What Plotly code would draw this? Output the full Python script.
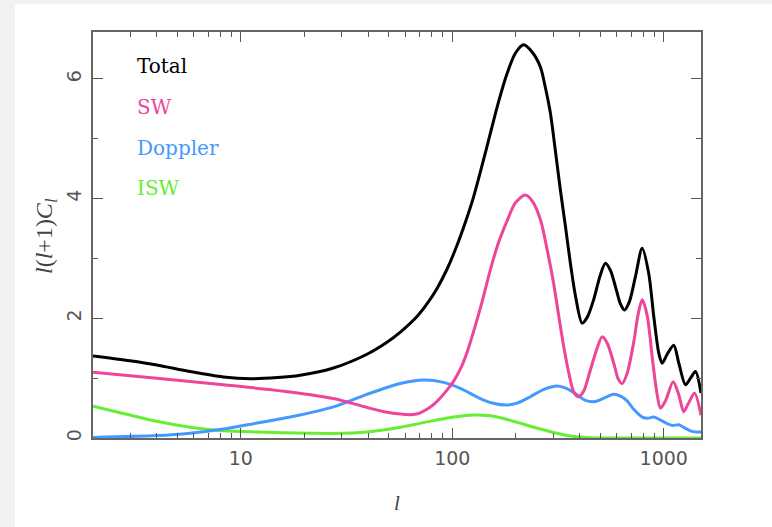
import plotly.graph_objects as go

# Angular power spectrum components, l(l+1)C_l vs multipole l
l_total = [2, 2.99, 4.0, 5.75, 8.27, 11.1, 14.9, 19.1, 27.4, 39.5, 49.1, 56.8,
           68.1, 75.9, 84.7, 94.4, 105.3, 115.2, 126.1, 138.2, 151.3, 165.6,
           181.6, 198.7, 217.6, 238.4, 261, 275, 291, 307, 324.6, 343, 361.8,
           383, 411, 435, 466, 501.7, 529.8, 559.6, 590.8, 623.8, 651.7, 688,
           735, 790.6, 849, 897, 947, 982.6, 1038, 1115, 1178, 1267, 1338,
           1413, 1500]
total = [1.37, 1.29, 1.22, 1.11, 1.02, 0.99, 1.01, 1.05, 1.17, 1.40, 1.60, 1.77,
         2.03, 2.24, 2.50, 2.82, 3.22, 3.60, 4.03, 4.55, 5.09, 5.62,
         6.09, 6.43, 6.57, 6.45, 6.20, 5.87, 5.43, 4.81, 4.14, 3.53, 2.92,
         2.36, 1.92, 2.02, 2.31, 2.73, 2.92, 2.80, 2.53, 2.24, 2.14, 2.28,
         2.70, 3.17, 2.75, 2.03, 1.42, 1.25, 1.40, 1.55, 1.25, 0.89, 1.00,
         1.11, 0.75]

l_sw = [2, 4.0, 8.27, 17.1, 27.4, 39.5, 49.1, 56.8, 63.3, 69.3, 75.9, 81.6,
        87.7, 94.4, 101.5, 109.1, 117.4, 126.1, 138.2, 151.3, 165.6, 181.6,
        198.7, 221.6, 239, 261, 280.8, 301.6, 318.4, 336.4, 355, 375.2, 396,
        418, 450, 484, 511, 541, 580, 610, 636, 671, 721, 755, 790.6, 834.6,
        882, 923.5, 965, 1018.6, 1108, 1178, 1243, 1309, 1398, 1500]
sw = [1.10, 1.00, 0.89, 0.77, 0.66, 0.51, 0.43, 0.40, 0.39, 0.41, 0.48, 0.56,
      0.67, 0.80, 0.95, 1.15, 1.43, 1.78, 2.27, 2.81, 3.27, 3.63,
      3.93, 4.06, 3.96, 3.65, 3.15, 2.58, 2.05, 1.53, 1.10, 0.77, 0.69,
      0.78, 1.14, 1.50, 1.69, 1.58, 1.25, 0.98, 0.91, 1.08, 1.60, 2.05, 2.31,
      2.05, 1.35, 0.80, 0.50, 0.62, 0.94, 0.72, 0.44, 0.58, 0.75, 0.38]

l_dop = [2, 4.0, 5.75, 8.27, 11.9, 17.1, 27.4, 39.5, 56.8, 73.2, 91.0, 109.1,
         135.7, 156.4, 181.6, 205.3, 234, 269.7, 313, 346.4, 383, 426, 475,
         524, 580, 624, 671, 721, 790.6, 842, 897, 965, 1038, 1099, 1178,
         1253, 1338, 1428, 1500]
doppler = [0.01, 0.04, 0.08, 0.15, 0.25, 0.35, 0.52, 0.73, 0.91, 0.97, 0.93,
           0.83, 0.66, 0.58, 0.55, 0.59, 0.69, 0.81, 0.87, 0.83, 0.74, 0.63,
           0.61, 0.67, 0.73, 0.70, 0.62, 0.48, 0.35, 0.33, 0.35, 0.30, 0.24,
           0.21, 0.22, 0.17, 0.12, 0.10, 0.10]

l_isw = [2, 2.78, 4.0, 5.75, 8.27, 11.9, 21.3, 27.4, 39.5, 56.8, 81.6, 101.5,
         126.1, 151.3, 181.6, 217.6, 261, 313, 375, 450, 530, 1500]
isw = [0.53, 0.41, 0.28, 0.18, 0.12, 0.10, 0.08, 0.075, 0.10, 0.18, 0.29, 0.35,
       0.385, 0.37, 0.31, 0.23, 0.15, 0.08, 0.025, 0.005, 0.0, 0.0]

names = ["Total", "SW", "Doppler", "ISW"]
colors = ["#000000", "#ee4499", "#4499ff", "#66ee33"]
series = [(l_total, total), (l_sw, sw), (l_dop, doppler), (l_isw, isw)]

x_major = [10, 100, 1000]
x_minor = [v * d for d in (1, 10, 100) for v in range(2, 10) if v * d <= 1500]
y_major = [0, 2, 4, 6]
y_minor = [1, 3, 5]

fig = go.Figure()
# components drawn first so the total sits on top
for (lx, ly), name, col in list(zip(series, names, colors))[::-1]:
    fig.add_trace(go.Scatter(x=lx, y=ly, mode="lines", name=name,
                             line=dict(color=col, width=3, shape="spline", smoothing=0.8),
                             showlegend=False))

axis_common = dict(showline=True, linecolor="#666666", linewidth=1.5, mirror="ticks",
                   ticks="inside", ticklen=10, tickwidth=1.2, tickcolor="#555555",
                   showgrid=False, zeroline=False,
                   tickfont=dict(family="DejaVu Sans", size=19, color="#555555"))

fig.update_xaxes(type="log", range=[0.30103, 3.17609], tickvals=x_major,
                 ticktext=[str(v) for v in x_major], ticklabelstandoff=2,
                 minor=dict(tickvals=x_minor, ticks="inside", ticklen=5,
                            tickwidth=1.2, tickcolor="#555555", showgrid=False),
                 **axis_common)
fig.update_yaxes(range=[0, 6.785], tickvals=y_major, ticktext=[str(v) for v in y_major],
                 tickangle=-90, ticklabelstandoff=3,
                 minor=dict(tickvals=y_minor, ticks="inside", ticklen=5,
                            tickwidth=1.2, tickcolor="#555555", showgrid=False),
                 **axis_common)

# white page area over light grey surround
fig.add_shape(type="rect", xref="paper", yref="paper",
              x0=(15 - 93) / 608, x1=1.2, y0=-0.3, y1=(438 - 4) / 406,
              fillcolor="white", line=dict(width=0), layer="below")

# legend as colored text labels
label_y = [66, 107, 148, 188]
for name, col, py in zip(names, colors, label_y):
    fig.add_annotation(text=name, xref="paper", yref="paper",
                       x=(135 - 93) / 608, y=(438 - py) / 406,
                       xanchor="left", yanchor="middle", showarrow=False,
                       font=dict(family="DejaVu Serif", size=20, color=col))

# axis titles
fig.add_annotation(text="<i>l</i>", xref="paper", yref="paper", x=0.5,
                   y=(438 - 503) / 406, xanchor="center", yanchor="middle",
                   showarrow=False,
                   font=dict(family="Liberation Serif", size=21, color="#444444"))
fig.add_annotation(text="<i>l</i>(<i>l</i>+1)<i>C<sub>l</sub></i>", xref="paper",
                   yref="paper", x=(46 - 93) / 608, y=(438 - 236) / 406,
                   xanchor="center", yanchor="middle", textangle=-90,
                   showarrow=False,
                   font=dict(family="Liberation Serif", size=24, color="#444444"))

fig.update_layout(width=772, height=527, margin=dict(l=93, r=71, t=32, b=89),
                  paper_bgcolor="#f2f2f2", plot_bgcolor="white")

fig.write_html("out.html")
